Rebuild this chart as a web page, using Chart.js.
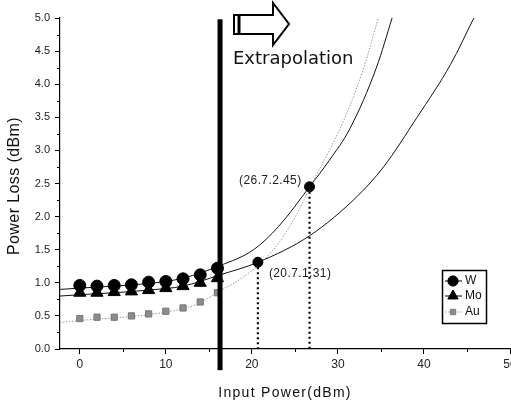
<!DOCTYPE html>
<html><head><meta charset="utf-8">
<script src="https://cdn.jsdelivr.net/npm/chart.js@4/dist/chart.umd.min.js"></script>
<style>html,body{margin:0;padding:0;background:#fff;}#wrap{width:511px;height:403px;position:relative;}</style>
</head><body><div id="wrap"><canvas id="c" width="511" height="403"></canvas></div>
<script>
// ---- data ----
const inputPower = [0, 2, 4, 6, 8, 10, 12, 14, 16];
const lossW  = [0.96, 0.95, 0.96, 0.97, 1.01, 1.02, 1.06, 1.12, 1.22];
const lossMo = [0.85, 0.85, 0.86, 0.87, 0.89, 0.92, 0.95, 1.00, 1.07];
const lossAu = [0.46, 0.48, 0.48, 0.50, 0.53, 0.57, 0.62, 0.71, 0.85];

const fitXW = [-2.3, 0, 4, 8, 12, 16.3, 20.2, 23.1, 26.7, 29, 31.4, 34.5, 36.3];
const fitW  = [0.90, 0.92, 0.95, 0.99, 1.07, 1.26, 1.50, 1.85, 2.45, 2.85, 3.33, 4.26, 5.0];
const fitXMo = [-2.3, 0, 4, 8, 12, 16.3, 20.7, 26.7, 32.2, 35.3, 39.2, 43.1, 45.8];
const fitMo  = [0.80, 0.82, 0.85, 0.89, 0.95, 1.12, 1.31, 1.71, 2.30, 2.75, 3.50, 4.30, 5.0];
const fitXAu = [-2.3, 0, 4, 8, 12, 14, 16.3, 18, 20.8, 22.3, 23.9, 25.8, 26.7, 29, 31, 33, 34.7];
const fitAu  = [0.40, 0.43, 0.47, 0.52, 0.61, 0.70, 0.88, 1.0, 1.27, 1.47, 1.75, 2.18, 2.43, 3.0, 3.55, 4.25, 5.0];

const markX = [20.7, 26.7];
const markY = [1.31, 2.45];
const markLabels = ['(20.7.1.31)', '(26.7.2.45)'];

const dividerX = 16.3;           // thick vertical line
const dividerRange = [4.98, -0.32];

const seriesNames = ['W', 'Mo', 'Au'];
const xTickValues = [0, 10, 20, 30, 40, 50];
const yTickValues = [0, 0.5, 1.0, 1.5, 2.0, 2.5, 3.0, 3.5, 4.0, 4.5, 5.0];
const xMinorTicks = [5, 15, 25, 35, 45];
const yMinorTicks = [0.25, 0.75, 1.25, 1.75, 2.25, 2.75, 3.25, 3.75, 4.25, 4.75];
const xTitle = 'Input Power(dBm)';
const yTitle = 'Power Loss (dBm)';
const noteText = 'Extrapolation';

// ---- build ----
const pts = (xs, ys) => xs.map((x, i) => ({x, y: ys[i]}));
const SANS = '"Liberation Sans", Arial, sans-serif';
const GRAY = '#8c8c8c';

const datasets = [
  {label: seriesNames[0], data: pts(inputPower, lossW), showLine: false, pointStyle: 'circle', pointRadius: 6, backgroundColor: '#000', borderColor: '#000', order: 1},
  {label: seriesNames[1], data: pts(inputPower, lossMo), showLine: false, pointStyle: 'triangle', pointRadius: 7, backgroundColor: '#000', borderColor: '#000', order: 2},
  {label: seriesNames[2], data: pts(inputPower, lossAu), showLine: false, pointStyle: 'rect', pointRadius: 4.4, backgroundColor: GRAY, borderColor: '#777', borderWidth: 1, order: 3},
  {label: 'fitW', data: pts(fitXW, fitW), showLine: true, pointRadius: 0, borderColor: '#111', borderWidth: 1, cubicInterpolationMode: 'monotone', order: 6},
  {label: 'fitMo', data: pts(fitXMo, fitMo), showLine: true, pointRadius: 0, borderColor: '#111', borderWidth: 1, cubicInterpolationMode: 'monotone', order: 6},
  {label: 'fitAu', data: pts(fitXAu, fitAu), showLine: true, pointRadius: 0, borderColor: '#9a9a9a', borderWidth: 1, borderDash: [1.5, 1.5], cubicInterpolationMode: 'monotone', order: 7},
  {label: 'drop1', data: [{x: markX[0], y: markY[0]}, {x: markX[0], y: 0}], showLine: true, pointRadius: 0, borderColor: '#000', borderWidth: 2.2, borderDash: [2, 3], order: 5},
  {label: 'drop2', data: [{x: markX[1], y: markY[1]}, {x: markX[1], y: 0}], showLine: true, pointRadius: 0, borderColor: '#000', borderWidth: 2.2, borderDash: [2, 3], order: 5},
  {label: 'marks', data: pts(markX, markY), showLine: false, pointStyle: 'circle', pointRadius: 5, backgroundColor: '#000', borderColor: '#000', order: 0}
];

const deco = {
  id: 'deco',
  afterDatasetsDraw(chart) {
    const ctx = chart.ctx, xs = chart.scales.x, ys = chart.scales.y;
    const px = xs.getPixelForValue(dividerX);
    ctx.save();
    ctx.fillStyle = '#000';
    const t = ys.getPixelForValue(dividerRange[0]), b = ys.getPixelForValue(dividerRange[1]);
    ctx.fillRect(px - 2.5, t, 5, b - t);
    ctx.restore();
  },
  afterDraw(chart) {
    const ctx = chart.ctx, xs = chart.scales.x, ys = chart.scales.y;
    const area = chart.chartArea;
    ctx.save();
    // minor ticks
    ctx.strokeStyle = '#000'; ctx.lineWidth = 1;
    ctx.beginPath();
    xMinorTicks.forEach(v => { const p = Math.round(xs.getPixelForValue(v)) + 0.5; ctx.moveTo(p, area.bottom); ctx.lineTo(p, area.bottom + 3); });
    yMinorTicks.forEach(v => { const p = Math.round(ys.getPixelForValue(v)) + 0.5; ctx.moveTo(area.left, p); ctx.lineTo(area.left - 3, p); });
    ctx.stroke();

    // x tick labels
    ctx.fillStyle = '#222';
    ctx.font = '12px ' + SANS;
    ctx.textAlign = 'center';
    ctx.textBaseline = 'middle';
    xTickValues.forEach(v => ctx.fillText(String(v), xs.getPixelForValue(v), area.bottom + 16));

    // point labels
    ctx.letterSpacing = '0.4px';
    ctx.textAlign = 'left';
    ctx.fillText(markLabels[0], xs.getPixelForValue(markX[0]) + 11, ys.getPixelForValue(markY[0]) + 11);
    ctx.textAlign = 'right';
    ctx.fillText(markLabels[1], xs.getPixelForValue(markX[1]) - 8, ys.getPixelForValue(markY[1]) - 6);

    // Extrapolation text
    ctx.letterSpacing = '0px';
    ctx.textAlign = 'left';
    ctx.font = '18px "DejaVu Sans", sans-serif';
    ctx.fillStyle = '#111';
    ctx.fillText(noteText, 233, 59);

    // hollow arrow
    ctx.strokeStyle = '#000'; ctx.lineWidth = 2;
    ctx.beginPath();
    ctx.moveTo(234, 15); ctx.lineTo(273, 15); ctx.lineTo(273, 3); ctx.lineTo(289, 24);
    ctx.lineTo(273, 45); ctx.lineTo(273, 34); ctx.lineTo(234, 34); ctx.closePath();
    ctx.stroke();
    ctx.lineWidth = 3;
    ctx.beginPath(); ctx.moveTo(239, 15); ctx.lineTo(239, 34); ctx.stroke();

    // axis titles
    ctx.fillStyle = '#111';
    ctx.font = '14px ' + SANS;
    ctx.letterSpacing = '1.3px';
    ctx.textAlign = 'center';
    ctx.fillText(xTitle, 285, 393);
    ctx.save();
    ctx.translate(15, 186);
    ctx.rotate(-Math.PI / 2);
    ctx.font = '16px ' + SANS;
    ctx.letterSpacing = '0.4px';
    ctx.fillText(yTitle, 0, 0);
    ctx.restore();
    ctx.letterSpacing = '0px';

    // legend
    const lx = 442, ly = 270, lw = 44, lh = 53;
    ctx.fillStyle = '#fff';
    ctx.fillRect(lx, ly, lw, lh);
    ctx.strokeStyle = '#000'; ctx.lineWidth = 1.5;
    ctx.strokeRect(lx + 0.5, ly + 0.5, lw, lh);
    const rows = [281, 296, 312];
    ctx.font = '12px ' + SANS;
    ctx.textAlign = 'left';
    ctx.textBaseline = 'middle';
    rows.forEach((ry, i) => {
      const ds = datasets[i];
      ctx.strokeStyle = i === 2 ? '#9a9a9a' : '#000';
      ctx.lineWidth = 1;
      ctx.setLineDash(i === 2 ? [1.5, 1.5] : []);
      ctx.beginPath(); ctx.moveTo(445, ry); ctx.lineTo(462, ry); ctx.stroke();
      ctx.setLineDash([]);
      ctx.fillStyle = ds.backgroundColor; ctx.strokeStyle = ds.borderColor;
      Chart.helpers.drawPoint(ctx, {pointStyle: ds.pointStyle, radius: ds.pointRadius * 0.85, borderWidth: 1}, 453, ry);
      ctx.fillStyle = '#111';
      ctx.fillText(ds.label, 465, ry);
    });
    ctx.restore();
  }
};

new Chart(document.getElementById('c'), {
  type: 'scatter',
  data: {datasets},
  options: {
    responsive: false,
    animation: false,
    events: [],
    layout: {autoPadding: false, padding: {top: 18, right: 1, left: 0, bottom: 0}},
    plugins: {legend: {display: false}, tooltip: {enabled: false}, title: {display: false}},
    scales: {
      x: {
        type: 'linear', min: -2.3, max: 50,
        afterBuildTicks: s => { s.ticks = xTickValues.map(v => ({value: v})); },
        afterFit: s => { s.height = 54; },
        grid: {drawOnChartArea: false, tickLength: 5, color: '#000', tickColor: '#000'},
        border: {color: '#000', width: 1.2},
        ticks: {display: false}
      },
      y: {
        type: 'linear', min: 0, max: 5,
        afterBuildTicks: s => { s.ticks = yTickValues.map(v => ({value: v})); },
        afterFit: s => { s.width = 60; },
        grid: {drawOnChartArea: false, tickLength: 5, color: '#000', tickColor: '#000'},
        border: {color: '#000', width: 1.2},
        ticks: {color: '#222', font: {family: SANS, size: 11}, padding: 5, callback: v => Number(v).toFixed(1)}
      }
    }
  },
  plugins: [deco]
});
</script>
</body></html>
